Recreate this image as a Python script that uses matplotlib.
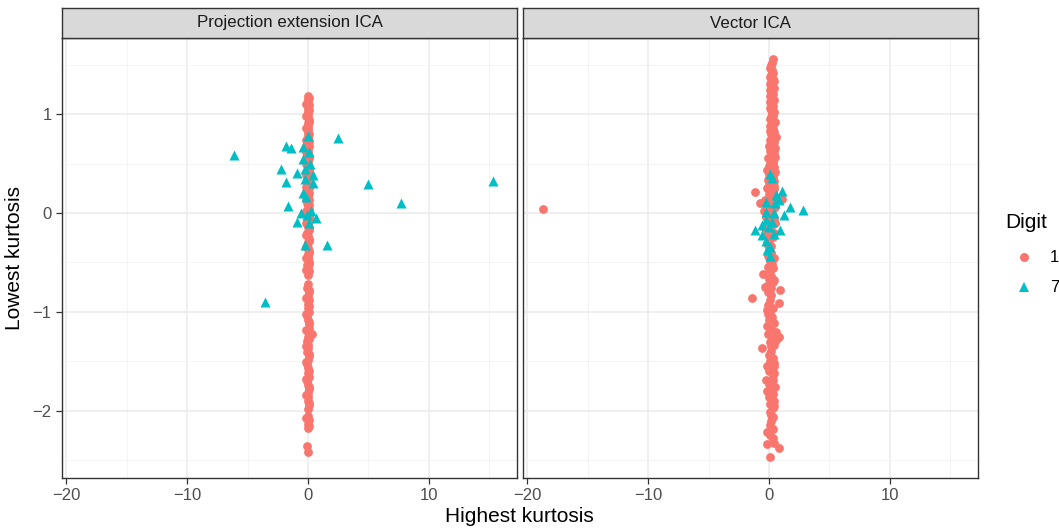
import matplotlib.pyplot as plt
from matplotlib.lines import Line2D

plt.rcParams['font.family'] = ['Liberation Sans', 'DejaVu Sans']

RED = '#F8766D'
CYAN = '#00BFC4'

panels = ['Projection extension ICA', 'Vector ICA']

# Projection extension ICA, digit 1
left_one_y = [1.18, 1.15, 1.12, 1.09, 1.06, 1.03, 1.00, 0.97, 0.94, 0.91, 0.88, 0.85,
              0.82, 0.79, 0.76, 0.73, 0.70, 0.67, 0.64, 0.61, 0.58, 0.55, 0.52, 0.49,
              0.46, 0.43, 0.40, 0.37, 0.34, 0.31, 0.28, 0.25, 0.22, 0.19, 0.16, 0.13,
              0.10, 0.07, 0.04, 0.01, -0.02, -0.05, -0.08, -0.11, -0.14, -0.17, -0.20,
              -0.23, -0.26, -0.29, -0.32, -0.35, -0.38, -0.41, -0.44, -0.47, -0.50,
              -0.53, -0.56, -0.59, -0.63, -0.72, -0.76, -0.80, -0.84, -0.88, -0.92,
              -0.96, -1.00, -1.04, -1.08, -1.12, -1.16, -1.20, -1.25, -1.29, -1.33,
              -1.37, -1.41, -1.45, -1.49, -1.53, -1.57, -1.62, -1.66, -1.70, -1.74,
              -1.78, -1.82, -1.86, -1.90, -1.94, -1.98, -2.05, -2.09, -2.13, -2.17,
              -2.36, -2.42, -1.22,
              1.16, 1.10, 1.04, 0.98, 0.92, 0.86, 0.80, 0.74, 0.68, 0.62, 0.56, 0.50,
              0.44, 0.38, 0.32, 0.26, 0.20, 0.14, 0.08, 0.02, -0.04, -0.10, -0.16,
              -0.22, -0.28, -0.34, -0.40, -0.46, -0.52, -0.58, -0.78, -0.86, -0.94,
              -1.02, -1.10, -1.18, -1.27, -1.35, -1.43, -1.51, -1.60, -1.68, -1.76,
              -1.84, -1.92, -2.07, -2.15]
left_one_x = [0.00, 0.02, -0.02, 0.05, 0.00, 0.03, -0.03, 0.00, 0.05, -0.02, 0.02, 0.00,
              0.04, -0.03, 0.00, 0.06, 0.01, -0.02, 0.03, 0.00, 0.07, -0.04, 0.02, 0.00,
              0.05, -0.03, 0.01, 0.08, 0.00, -0.05, 0.03, 0.06, -0.02, 0.00, 0.04, 0.10,
              -0.05, 0.02, 0.07, 0.00, -0.06, 0.05, 0.12, -0.03, 0.00, 0.06, -0.04, 0.02,
              0.08, 0.00, -0.05, 0.04, 0.10, -0.02, 0.03, 0.00, 0.07, -0.04, 0.02, 0.05,
              0.00, 0.03, -0.05, 0.06, 0.00, 0.08, -0.03, 0.02, 0.05, -0.04, 0.00, 0.06,
              0.10, -0.03, 0.02, -0.08, 0.04, 0.00, -0.06, 0.05, 0.02, -0.10, 0.03, 0.00,
              0.06, -0.04, 0.02, 0.05, -0.03, 0.00, 0.04, 0.07, -0.02, 0.00, 0.05, -0.03,
              0.02, -0.04, 0.03, 0.36,
              0.12, -0.12, 0.12, -0.12, 0.12, -0.12, 0.12, -0.12, 0.12, -0.12, 0.12,
              -0.12, 0.12, -0.12, 0.12, -0.12, 0.12, -0.12, 0.12, -0.12, 0.12, -0.12,
              0.12, -0.12, 0.12, -0.12, 0.12, -0.12, 0.12, -0.12, 0.12, -0.12, 0.12,
              -0.12, 0.12, -0.12, 0.12, -0.12, 0.12, -0.12, 0.12, -0.12, 0.12, -0.12,
              0.12, -0.12, 0.12]

# Projection extension ICA, digit 7
left_seven_x = [-6.1, -1.85, -1.43, 0.03, 2.45, -0.39, 0.10, -0.39, 0.17, -2.23, -0.94,
                -0.25, 0.44, -0.25, -1.79, 0.39, 4.93, 7.70, -0.39, -0.17, -1.68, -0.58,
                0.25, -0.11, 0.63, -0.94, 0.10, -0.25, 1.55, 15.3, -3.55]
left_seven_y = [0.59, 0.68, 0.66, 0.78, 0.76, 0.67, 0.62, 0.55, 0.50, 0.45, 0.40, 0.45,
                0.38, 0.34, 0.31, 0.30, 0.29, 0.10, 0.20, 0.16, 0.07, 0.00, 0.02, -0.02,
                -0.05, -0.09, -0.10, -0.32, -0.32, 0.32, -0.90]

# Vector ICA, digit 1
right_one_y = [1.56, 1.50, 1.45, 1.40, 1.36, 1.32, 1.28, 1.24, 1.20, 1.16, 1.12, 1.08,
               1.04, 1.00, 0.97, 0.94, 0.91, 0.88, 0.85, 0.82, 0.80, 0.77, 0.74, 0.71,
               0.68, 0.65, 0.62, 0.59, 0.56, 0.53, 0.50, 0.47, 0.44, 0.42, 0.39, 0.36,
               0.33, 0.30, 0.27, 0.25, 0.21, 0.22, 0.19, 0.16, 0.14, 0.13, 0.10, 0.10,
               0.07, 0.04, 0.02, -0.01, -0.04, -0.06, -0.09, -0.12, -0.15, -0.18, -0.21,
               -0.24, -0.27, -0.30, -0.33, -0.37, -0.40, -0.43, -0.46, -0.49, -0.52,
               -0.55, -0.58, -0.62, -0.64, -0.67, -0.70, -0.73, -0.76, -0.78, -0.80,
               -0.83, -0.86, -0.88, -0.91, -0.93, -0.96, -0.99, -1.02, -1.05, -1.08,
               -1.11, -1.14, -1.17, -1.20, -1.22, -1.25, -1.27, -1.30, -1.33, -1.37,
               -1.40, -1.44, -1.47, -1.50, -1.55, -1.55, -1.60, -1.64, -1.69, -1.69,
               -1.73, -1.76, -1.80, -1.83, -1.86, -1.90, -1.93, -1.97, -2.01, -2.06,
               -2.10, -2.14, -2.18, -2.21, -2.25, -2.34, -2.33, -2.38, -2.47, 0.04,
               1.52, 1.47, 1.42, 1.38, 1.34, 1.30, 1.26, 1.22, 1.18, 1.14, 1.10, 1.06,
               1.02, 0.98, 0.95, 0.92, 0.89, 0.86, 0.83, 0.79, 0.76, 0.72, 0.69, 0.66,
               0.63, 0.60, 0.57, 0.54, 0.51, 0.48, 0.45, 0.41, 0.38, 0.35, 0.32, 0.28,
               0.24, 0.18, 0.12, 0.06, -0.03, -0.10, -0.20, -0.32, -0.45, -0.56, -0.68,
               -0.75, -0.98, -1.10, -1.28, -1.35, -1.52, -1.62, -1.78, -1.95, -2.04,
               -2.28]
right_one_x = [0.33, 0.14, 0.25, 0.20, 0.30, 0.18, 0.26, 0.12, 0.30, 0.22, 0.10, 0.32,
               0.20, 0.28, 0.15, 0.36, 0.22, 0.05, 0.30, 0.45, 0.18, 0.60, 0.10, 0.30,
               0.00, 0.25, 0.40, 0.15, -0.05, 0.30, 0.10, 0.45, -0.20, 0.20, 0.00, 0.35,
               -0.10, 0.15, 0.40, -0.15, -1.16, 0.30, 0.00, 0.55, 1.10, -0.30, -0.77,
               0.20, -0.20, 0.30, -0.40, 0.10, -0.25, 0.40, -0.10, 0.25, -0.35, 0.10,
               -0.15, 0.30, 0.00, -0.20, 0.20, 0.00, 0.15, -0.10, 0.20, 0.05, 0.25,
               -0.05, 0.10, -0.45, 0.20, 0.00, 0.30, -0.10, 0.15, 0.95, -0.05, 0.20,
               -1.43, 0.05, 0.80, -0.10, 0.30, 0.10, -0.05, 0.25, 0.00, 0.40, -0.20,
               0.20, 0.60, -0.10, 0.80, 0.30, 0.05, 0.40, -0.55, 0.20, 0.00, 0.30, 0.10,
               -0.20, 0.40, 0.00, 0.30, -0.25, 0.30, 0.00, 0.50, -0.20, 0.35, 0.00, 0.45,
               0.10, 0.30, 0.05, 0.35, 0.20, 0.10, 0.30, -0.15, 0.10, -0.15, 0.40, 0.80,
               0.05, -18.7,
               0.25, 0.10, 0.35, 0.05, 0.40, 0.10, 0.38, 0.25, 0.05, 0.40, 0.22, 0.05,
               0.42, 0.35, 0.05, 0.50, 0.30, 0.15, 0.05, 0.35, 0.25, 0.45, 0.20, 0.50,
               0.05, 0.35, 0.50, 0.15, 0.35, 0.00, 0.25, 0.50, 0.15, 0.00, 0.40, 0.00,
               0.45, 0.35, 0.00, 0.50, 0.30, 0.50, 0.45, -0.05, 0.40, 0.30, 0.45, -0.30,
               -0.20, 0.15, 0.55, 0.15, 0.45, 0.45, 0.25, 0.45, 0.15, 0.30]

# Vector ICA, digit 7
right_seven_x = [0.06, 0.25, 1.05, 0.60, 0.83, -0.27, 0.50, 1.71, 2.83, 1.26, -0.22, 0.41,
                 -0.27, 0.28, -0.55, 0.00, -1.16, 0.88, -0.60, 0.41, -0.27, -0.14, 0.06,
                 0.10]
right_seven_y = [0.39, 0.35, 0.22, 0.18, 0.13, 0.11, 0.10, 0.06, 0.03, -0.02, 0.01, 0.00,
                 -0.07, -0.09, -0.12, -0.14, -0.17, -0.17, -0.22, -0.21, -0.28, -0.37,
                 -0.43, -0.34]

xticks = [-20, -10, 0, 10]
yticks = [-2, -1, 0, 1]

W, H = 1059, 530
fig = plt.figure(figsize=(W / 100, H / 100), dpi=100)

panel_left = [62, 523]
panel_w = 455
ptop, pbot = 38, 478

data = [
    (left_one_x, left_one_y, left_seven_x, left_seven_y),
    (right_one_x, right_one_y, right_seven_x, right_seven_y),
]

for i, name in enumerate(panels):
    x0 = panel_left[i]
    ax = fig.add_axes([x0 / W, 1 - pbot / H, panel_w / W, (pbot - ptop) / H])
    ox, oy, sx, sy = data[i]
    ax.scatter(ox, oy, s=40, color=RED, marker='o', linewidths=0, zorder=3)
    ax.scatter(sx, sy, s=52, color=CYAN, marker='^', linewidths=0, zorder=4)
    ax.set_xlim(-20.35, 17.3)
    ax.set_ylim(-2.68, 1.77)
    ax.set_xticks(xticks)
    ax.set_yticks(yticks)
    ax.set_xticks([-15, -5, 5, 15], minor=True)
    ax.set_yticks([-2.5, -1.5, -0.5, 0.5, 1.5], minor=True)
    ax.grid(which='major', color='#EBEBEB', linewidth=1.1, zorder=0)
    ax.grid(which='minor', color='#F3F3F3', linewidth=0.6, zorder=0)
    ax.set_axisbelow(True)
    for sp in ax.spines.values():
        sp.set_color('#333333')
        sp.set_linewidth(1.0)
    ax.tick_params(which='major', length=4, color='#333333', labelcolor='#4D4D4D',
                   labelsize=12, width=0.9)
    ax.tick_params(which='minor', length=0)
    ax.set_xticklabels([str(t).replace('-', '\u2212') for t in xticks])
    if i == 0:
        ax.set_yticklabels([str(t).replace('-', '\u2212') for t in yticks])
    else:
        ax.set_yticklabels([])
        ax.tick_params(axis='y', length=0)

    # facet strip
    sax = fig.add_axes([x0 / W, 1 - ptop / H, panel_w / W, 30 / H])
    sax.set_facecolor('#D9D9D9')
    sax.set_xticks([])
    sax.set_yticks([])
    for sp in sax.spines.values():
        sp.set_color('#333333')
        sp.set_linewidth(1.0)
    sax.text(0.5, 0.5, name, ha='center', va='center', fontsize=12.2, color='#1A1A1A',
             transform=sax.transAxes)

fig.text(519 / W, 1 - 516 / H, 'Highest kurtosis', ha='center', va='center', fontsize=15)
fig.text(15 / W, 1 - 258 / H, 'Lowest kurtosis', ha='center', va='center', fontsize=15,
         rotation=90)

# legend
fig.text(1005 / W, 1 - 223 / H, 'Digit', ha='left', va='center', fontsize=15)
fig.add_artist(Line2D([1024 / W], [1 - 257 / H], marker='o', color=RED, markersize=6.5,
                      linestyle='none', markeredgewidth=0, transform=fig.transFigure))
fig.add_artist(Line2D([1024 / W], [1 - 287 / H], marker='^', color=CYAN, markersize=7.5,
                      linestyle='none', markeredgewidth=0, transform=fig.transFigure))
fig.text(1050 / W, 1 - 257 / H, '1', ha='left', va='center', fontsize=12)
fig.text(1050 / W, 1 - 287 / H, '7', ha='left', va='center', fontsize=12)

fig.savefig('out.png', dpi=100)
